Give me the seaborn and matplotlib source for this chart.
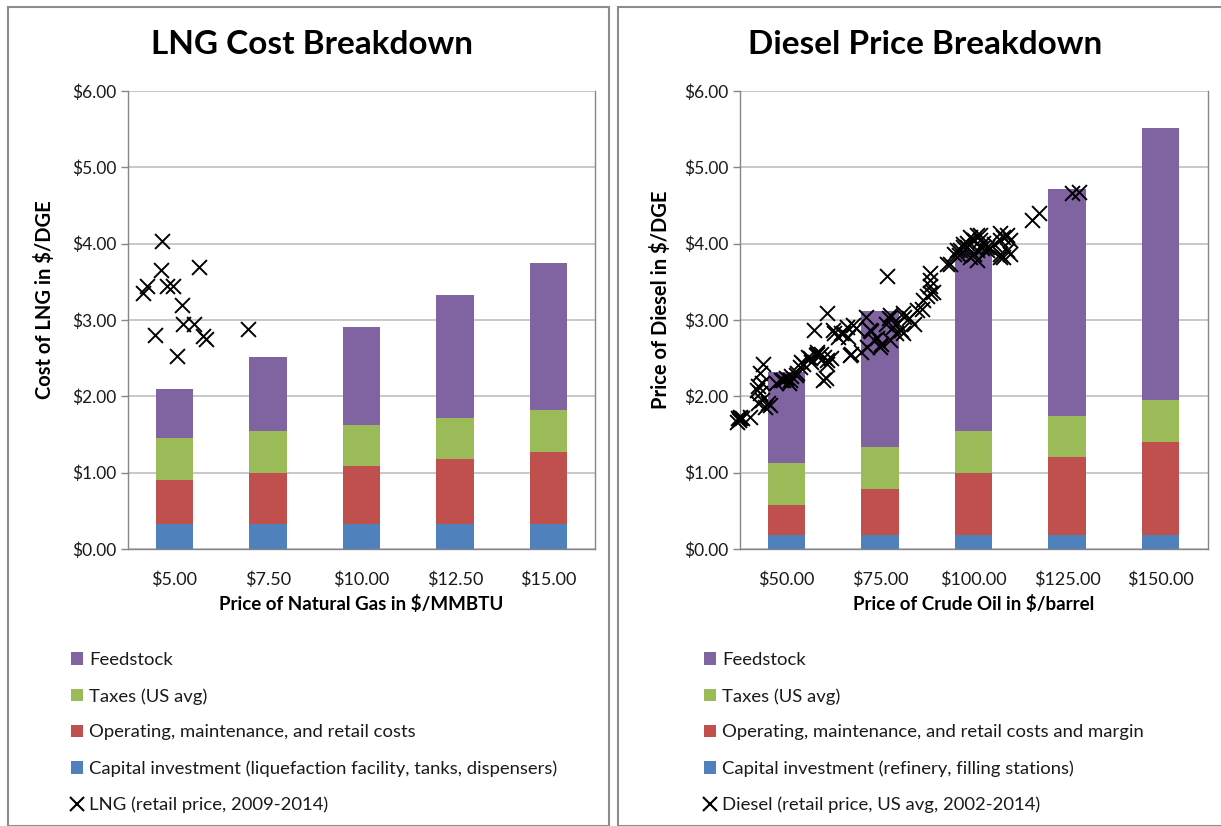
import matplotlib
matplotlib.use("Agg")
import matplotlib.pyplot as plt
import seaborn as sns
import pandas as pd
import numpy as np
from matplotlib.patches import Patch, Rectangle
from matplotlib.lines import Line2D

# ---------------- data ----------------
lng_gas_price = [5.0, 7.5, 10.0, 12.5, 15.0]
lng_capital = [0.33, 0.33, 0.33, 0.33, 0.33]
lng_om = [0.58, 0.67, 0.76, 0.85, 0.94]
lng_taxes = [0.54, 0.54, 0.54, 0.54, 0.55]
lng_feed = [0.64, 0.97, 1.28, 1.61, 1.93]

lng_retail_x = [4.66, 4.64, 5.67, 4.26, 4.15, 4.80, 4.97, 5.20, 5.24, 5.53, 4.48, 5.77, 5.85, 6.98, 5.06]
lng_retail_y = [4.03, 3.66, 3.69, 3.45, 3.36, 3.45, 3.44, 3.20, 2.95, 2.95, 2.81, 2.79, 2.75, 2.88, 2.53]

diesel_crude_price = [50, 75, 100, 125, 150]
diesel_capital = [0.18, 0.18, 0.18, 0.18, 0.18]
diesel_om = [0.40, 0.61, 0.82, 1.02, 1.22]
diesel_taxes = [0.55, 0.54, 0.54, 0.54, 0.55]
diesel_feed = [1.19, 1.79, 2.38, 2.98, 3.57]

diesel_retail_x = [37.2, 37.6, 38.1, 37.4, 36.8, 40.3, 37.6,
                   42.5, 43.4, 44.3, 45.2, 45.6, 43.0, 43.4, 42.5, 43.9, 43.0, 42.1,
                   47.3, 48.6, 49.9, 50.8, 51.2, 52.6, 49.2, 51.0, 52.8, 53.7,
                   53.9, 55.7, 56.6, 57.9, 58.3, 59.2, 60.1, 61.0, 61.9, 60.6, 56.3, 58.1, 60.8, 54.5, 59.9,
                   57.5, 61.0, 62.8, 63.7, 64.5, 66.3, 67.7, 68.5, 67.2, 69.9, 71.2, 72.6, 73.4, 75.3,
                   76.6, 77.5, 78.4, 79.3, 80.6, 81.5, 82.8, 84.2, 76.8,
                   62.6, 65.2, 66.6, 72.4, 74.1, 77.7, 79.5, 67.0, 71.5, 75.0, 77.7, 81.3, 81.3,
                   86.2, 87.5, 88.4, 89.3, 88.4, 84.8, 86.6, 88.4, 88.4,
                   92.9, 93.7, 94.7, 95.5, 96.4, 97.3, 98.2, 99.1, 100.0, 100.9, 101.7, 102.6, 103.5,
                   100.0, 100.9, 102.2, 104.5, 107.1, 108.0, 108.9, 109.8, 107.1, 108.9, 109.8,
                   97.3, 99.9, 101.7, 103.5, 100.9, 107.1, 107.1, 98.2, 108.0, 99.1, 105.5, 96.0,
                   115.6, 117.4, 126.3, 128.1]
diesel_retail_y = [1.71, 1.73, 1.71, 1.69, 1.67, 1.73, 1.71,
                   1.91, 1.95, 1.86, 1.91, 1.89, 2.04, 2.17, 2.13, 2.43, 2.30, 2.08,
                   2.17, 2.22, 2.24, 2.17, 2.26, 2.28, 2.21, 2.21, 2.30, 2.39,
                   2.45, 2.52, 2.45, 2.54, 2.58, 2.56, 2.52, 2.48, 2.50, 2.24, 2.50, 2.56, 2.43, 2.43, 2.21,
                   2.87, 3.09, 2.83, 2.78, 2.83, 2.91, 2.93, 2.89, 2.56, 2.58, 3.04, 2.85, 2.74, 2.69,
                   2.95, 3.02, 2.91, 2.83, 2.87, 3.04, 3.02, 2.95, 3.57,
                   2.87, 2.83, 2.78, 2.87, 2.76, 3.07, 2.96, 2.54, 2.65, 2.65, 2.74, 3.09, 2.83,
                   3.15, 3.31, 3.35, 3.37, 3.52, 3.13, 3.26, 3.44, 3.61,
                   3.74, 3.74, 3.87, 3.92, 3.92, 3.96, 4.01, 4.09, 4.05, 4.11, 4.05, 4.01, 3.96,
                   3.87, 3.92, 3.94, 3.94, 4.05, 4.09, 4.11, 4.05, 3.87, 3.92, 3.87,
                   4.00, 4.05, 4.11, 3.92, 3.79, 4.14, 3.83, 3.96, 3.83, 3.83, 4.00, 3.85,
                   4.31, 4.40, 4.67, 4.68]

y_ticks = [0, 1, 2, 3, 4, 5, 6]
lng_x_labels = ["$5.00", "$7.50", "$10.00", "$12.50", "$15.00"]
diesel_x_labels = ["$50.00", "$75.00", "$100.00", "$125.00", "$150.00"]

lng_legend = ["Feedstock", "Taxes (US avg)", "Operating, maintenance, and retail costs",
              "Capital investment (liquefaction facility, tanks, dispensers)",
              "LNG (retail price, 2009-2014)"]
diesel_legend = ["Feedstock", "Taxes (US avg)", "Operating, maintenance, and retail costs and margin",
                 "Capital investment (refinery, filling stations)",
                 "Diesel (retail price, US avg, 2002-2014)"]

C_BLUE = "#4F81BD"
C_RED = "#C0504D"
C_GREEN = "#9BBB59"
C_PURPLE = "#8064A2"
GRID = "#BFBFBF"
AX = "#868686"
TXT = "#1a1a1a"

sns.set_theme(style="white")
plt.rcParams['font.family'] = ['Lato', 'DejaVu Sans']

W, H = 1221, 826
fig = plt.figure(figsize=(W / 100, H / 100), dpi=100)


def fx(px):
    return px / W


def fy(py):
    return 1 - py / H


# panel borders
fig.patches.append(Rectangle((fx(8), fy(826)), fx(609 - 8), fy(7) - fy(826), transform=fig.transFigure,
                             fill=False, edgecolor="#8c8c8c", linewidth=1.5))
fig.patches.append(Rectangle((fx(618), fy(826)), fx(1221 + 5 - 618), fy(7) - fy(826), transform=fig.transFigure,
                             fill=False, edgecolor="#8c8c8c", linewidth=1.5))


def panel(ax_rect, xs, cap, om, tax, feed, sx, sy, xlim, xlabels, xlabel, ylabel, title, title_x,
          ylabel_x, legend_labels, legend_x):
    ax = fig.add_axes(ax_rect)
    cap = np.array(cap)
    om = np.array(om)
    tax = np.array(tax)
    feed = np.array(feed)
    levels = [(cap + om + tax + feed, C_PURPLE), (cap + om + tax, C_GREEN), (cap + om, C_RED), (cap, C_BLUE)]
    for vals, col in levels:
        df = pd.DataFrame({"x": xs, "y": vals})
        sns.barplot(data=df, x="x", y="y", native_scale=True, color=col, saturation=1,
                    width=0.4, linewidth=0, errorbar=None, ax=ax)
    sdf = pd.DataFrame({"x": sx, "y": sy})
    sns.scatterplot(data=sdf, x="x", y="y", marker="x", color="black", s=115, linewidth=1.4,
                    ax=ax, zorder=5, clip_on=False)
    ax.set_xlim(*xlim)
    ax.set_ylim(0, 6)
    ax.set_yticks(y_ticks)
    ax.set_yticklabels([f"${v:.2f}" for v in y_ticks], fontsize=12.5, color=TXT)
    ax.set_xticks(xs)
    ax.set_xticklabels(xlabels, fontsize=13, color=TXT)
    ax.tick_params(axis="x", length=0, pad=16)
    ax.tick_params(axis="y", length=5, width=1, color=AX, direction="out", pad=3, left=True)
    ax.grid(axis="y", color=GRID, linewidth=1.2)
    ax.set_axisbelow(True)
    for s in ["left", "bottom", "right"]:
        ax.spines[s].set_color(AX)
        ax.spines[s].set_linewidth(1)
    ax.spines["top"].set_visible(False)
    ax.set_xlabel(xlabel, fontsize=13.5, fontweight="bold", color="black", labelpad=5)
    ax.set_ylabel("")
    fig.text(fx(ylabel_x), fy(300), ylabel, rotation=90,
             fontsize=14.5, fontweight="bold", ha="center", va="center", color="black")
    fig.text(fx(title_x), fy(45), title, fontsize=24, fontweight="bold", ha="center", va="center",
             color="black")
    handles = [Patch(facecolor=C_PURPLE, edgecolor="none"), Patch(facecolor=C_GREEN, edgecolor="none"),
               Patch(facecolor=C_RED, edgecolor="none"), Patch(facecolor=C_BLUE, edgecolor="none"),
               Line2D([], [], marker="x", color="black", linestyle="none", markersize=9.5, markeredgewidth=1.5)]
    fig.legend(handles, legend_labels, loc="upper left", bbox_to_anchor=(fx(legend_x), fy(652)),
               frameon=False, fontsize=13.3, handlelength=0.65, handleheight=0.65, handletextpad=0.35,
               labelspacing=1.08, borderpad=0, borderaxespad=0, labelcolor=TXT)
    return ax


ax_bottom = fy(549)
ax_h = fy(91) - fy(549)
panel([fx(127.6), ax_bottom, fx(595.3) - fx(127.6), ax_h], lng_gas_price, lng_capital, lng_om, lng_taxes,
      lng_feed, lng_retail_x, lng_retail_y, (3.75, 16.25), lng_x_labels,
      "Price of Natural Gas in $/MMBTU", "Cost of LNG in $/DGE", "LNG Cost Breakdown", 312, 45,
      lng_legend, 71)
panel([fx(739.5), ax_bottom, fx(1207.5) - fx(739.5), ax_h], diesel_crude_price, diesel_capital, diesel_om,
      diesel_taxes, diesel_feed, diesel_retail_x, diesel_retail_y, (37.5, 162.5), diesel_x_labels,
      "Price of Crude Oil in $/barrel", "Price of Diesel in $/DGE", "Diesel Price Breakdown", 925, 660,
      diesel_legend, 704)

fig.savefig("out.png", dpi=100)
